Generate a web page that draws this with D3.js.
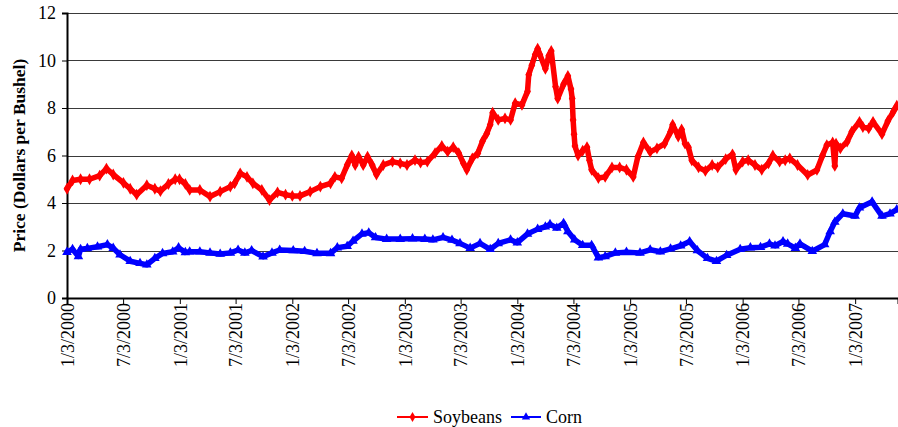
<!DOCTYPE html>
<html>
<head>
<meta charset="utf-8">
<script src="https://cdn.jsdelivr.net/npm/d3@7"></script>
<style>
  body { margin: 0; background: #fff; }
</style>
</head>
<body>
<div id="chart"></div>
<script>
// [year offset from 1/3/2000 in decimal years, price]
const soybeans = [
  [2000.00, 4.6], [2000.05, 4.95], [2000.12, 5.0], [2000.20, 5.0], [2000.29, 5.15], [2000.35, 5.45],
  [2000.41, 5.2], [2000.50, 4.85], [2000.56, 4.6], [2000.62, 4.35], [2000.71, 4.75], [2000.78, 4.6],
  [2000.83, 4.5], [2000.90, 4.8], [2000.96, 5.0], [2001.00, 5.0], [2001.05, 4.8], [2001.09, 4.55],
  [2001.18, 4.55], [2001.27, 4.27], [2001.36, 4.48], [2001.45, 4.69], [2001.49, 4.83], [2001.54, 5.25],
  [2001.60, 5.1], [2001.65, 4.83], [2001.73, 4.55], [2001.80, 4.12], [2001.87, 4.45], [2001.94, 4.35],
  [2002.00, 4.3], [2002.07, 4.3], [2002.16, 4.48], [2002.25, 4.69], [2002.34, 4.83], [2002.38, 5.1],
  [2002.44, 5.04], [2002.49, 5.6], [2002.53, 6.0], [2002.56, 5.6], [2002.59, 5.95], [2002.63, 5.6],
  [2002.67, 5.95], [2002.71, 5.6], [2002.75, 5.2], [2002.81, 5.6], [2002.89, 5.74], [2002.96, 5.67],
  [2003.02, 5.6], [2003.09, 5.81], [2003.14, 5.7], [2003.20, 5.74], [2003.27, 6.1], [2003.33, 6.4],
  [2003.38, 6.16], [2003.43, 6.35], [2003.48, 6.1], [2003.52, 5.67], [2003.55, 5.4], [2003.60, 5.88],
  [2003.65, 6.1], [2003.69, 6.6], [2003.73, 6.93], [2003.76, 7.3], [2003.78, 7.8], [2003.83, 7.5],
  [2003.89, 7.56], [2003.94, 7.5], [2003.98, 8.2], [2004.04, 8.13], [2004.09, 8.7], [2004.10, 9.4],
  [2004.13, 9.8], [2004.16, 10.25], [2004.18, 10.5], [2004.20, 10.25], [2004.25, 9.65], [2004.28, 10.2],
  [2004.30, 10.4], [2004.34, 8.9], [2004.36, 8.4], [2004.41, 9.0], [2004.45, 9.35], [2004.477, 8.8],
  [2004.486, 8.4], [2004.495, 7.5], [2004.504, 6.9], [2004.513, 6.4], [2004.54, 6.0], [2004.58, 6.2],
  [2004.62, 6.35], [2004.64, 5.8], [2004.66, 5.4], [2004.72, 5.05], [2004.78, 5.1], [2004.84, 5.5],
  [2004.91, 5.5], [2004.97, 5.4], [2005.03, 5.1], [2005.07, 5.95], [2005.12, 6.55], [2005.18, 6.15],
  [2005.24, 6.3], [2005.31, 6.5], [2005.36, 7.0], [2005.38, 7.3], [2005.43, 6.8], [2005.46, 7.1],
  [2005.49, 6.5], [2005.52, 6.35], [2005.55, 5.8], [2005.61, 5.5], [2005.67, 5.35], [2005.73, 5.6],
  [2005.78, 5.5], [2005.85, 5.85], [2005.91, 6.05], [2005.94, 5.4], [2006.00, 5.74], [2006.05, 5.8],
  [2006.11, 5.6], [2006.17, 5.4], [2006.23, 5.67], [2006.27, 6.0], [2006.33, 5.74], [2006.38, 5.8],
  [2006.42, 5.88], [2006.49, 5.6], [2006.58, 5.18], [2006.66, 5.39], [2006.71, 6.0], [2006.75, 6.44],
  [2006.80, 6.55], [2006.82, 5.56], [2006.83, 6.5], [2006.87, 6.3], [2006.93, 6.58], [2006.97, 7.0],
  [2007.04, 7.42], [2007.07, 7.2], [2007.12, 7.14], [2007.16, 7.42], [2007.24, 6.9], [2007.29, 7.45],
  [2007.34, 7.85], [2007.37, 8.1]
];

const corn = [
  [2000.00, 1.93], [2000.05, 2.05], [2000.10, 1.75], [2000.12, 2.05], [2000.18, 2.09], [2000.27, 2.16],
  [2000.36, 2.25], [2000.41, 2.1], [2000.47, 1.82], [2000.56, 1.55], [2000.65, 1.46], [2000.71, 1.4],
  [2000.78, 1.67], [2000.85, 1.88], [2000.94, 1.95], [2000.99, 2.12], [2001.05, 1.92], [2001.09, 1.95],
  [2001.18, 1.95], [2001.27, 1.9], [2001.36, 1.85], [2001.45, 1.9], [2001.52, 2.02], [2001.58, 1.9],
  [2001.64, 2.0], [2001.74, 1.74], [2001.82, 1.9], [2001.89, 2.02], [2002.01, 2.0], [2002.11, 1.97],
  [2002.22, 1.88], [2002.34, 1.88], [2002.40, 2.12], [2002.49, 2.18], [2002.54, 2.4], [2002.62, 2.7],
  [2002.68, 2.75], [2002.74, 2.55], [2002.84, 2.48], [2002.96, 2.48], [2003.07, 2.5], [2003.18, 2.48],
  [2003.25, 2.45], [2003.34, 2.55], [2003.42, 2.44], [2003.49, 2.3], [2003.58, 2.1], [2003.67, 2.3],
  [2003.76, 2.05], [2003.83, 2.3], [2003.94, 2.45], [2004.00, 2.33], [2004.09, 2.7], [2004.18, 2.9],
  [2004.25, 3.0], [2004.29, 3.1], [2004.35, 2.95], [2004.41, 3.15], [2004.45, 2.8], [2004.51, 2.45],
  [2004.58, 2.22], [2004.66, 2.22], [2004.72, 1.7], [2004.78, 1.75], [2004.87, 1.9], [2004.97, 1.93],
  [2005.09, 1.9], [2005.18, 2.03], [2005.27, 1.95], [2005.36, 2.07], [2005.45, 2.2], [2005.53, 2.38],
  [2005.60, 2.0], [2005.69, 1.67], [2005.77, 1.55], [2005.86, 1.8], [2005.98, 2.05], [2006.07, 2.12],
  [2006.16, 2.14], [2006.24, 2.28], [2006.29, 2.2], [2006.36, 2.38], [2006.40, 2.28], [2006.47, 2.1],
  [2006.51, 2.28], [2006.62, 1.97], [2006.73, 2.25], [2006.78, 2.8], [2006.82, 3.2], [2006.89, 3.55],
  [2007.00, 3.45], [2007.04, 3.8], [2007.15, 4.05], [2007.24, 3.45], [2007.31, 3.55], [2007.37, 3.72]
];

const yTicks = [0, 2, 4, 6, 8, 10, 12];
const seriesNames = ["Soybeans", "Corn"];

const width = 898;
const height = 427;
const marginTop = 13;
const marginRight = 0;
const marginBottom = 129;
const marginLeft = 67;
const serif = "'Liberation Serif', 'Times New Roman', 'DejaVu Serif', serif";

const startDate = new Date(2000, 0, 3);
const endDate = new Date(2007, 4, 22);
const toDate = t => d3.timeDay.offset(startDate, Math.round((t - 2000) * 365.25));

const svg = d3.create("svg")
    .attr("width", width)
    .attr("height", height)
    .attr("viewBox", [0, 0, width, height])
    .style("display", "block")
    .style("font-family", serif);

const x = d3.scaleTime([startDate, endDate], [marginLeft, width - marginRight]);
const y = d3.scaleLinear([0, 12], [height - marginBottom, marginTop]);

// gridlines
svg.append("g")
    .selectAll("line")
    .data(yTicks.filter(d => d > 0))
    .join("line")
    .attr("x1", marginLeft)
    .attr("x2", width - marginRight)
    .attr("y1", d => Math.round(y(d)) + 0.5)
    .attr("y2", d => Math.round(y(d)) + 0.5)
    .attr("stroke", "#3a3a3a")
    .attr("stroke-width", 1);

// x axis: ticks on 1/3 and 7/3
const xTicks = [];
for (let yr = 2000; yr <= 2007; yr++) {
    xTicks.push(new Date(yr, 0, 3));
    if (yr < 2007) xTicks.push(new Date(yr, 6, 3));
}

svg.append("g")
    .attr("transform", `translate(0,${y(0)})`)
    .call(d3.axisBottom(x).tickValues(xTicks).tickSizeOuter(0).tickSize(6).tickFormat(d3.timeFormat("%-m/%-d/%Y")))
    .attr("font-family", null)
    .call(g => g.select(".domain").attr("stroke", "#000").attr("stroke-width", 2))
    .call(g => g.selectAll(".tick line").attr("stroke", "#000"))
    .call(g => g.selectAll(".tick text")
        .style("font-family", serif)
        .attr("font-size", "18px")
        .attr("fill", "#000")
        .attr("transform", "rotate(-90)")
        .attr("text-anchor", "end")
        .attr("x", -5)
        .attr("y", 0)
        .attr("dy", "0.35em"));

// y axis
svg.append("g")
    .attr("transform", `translate(${marginLeft},0)`)
    .call(d3.axisLeft(y).tickValues(yTicks).tickSizeOuter(0).tickSize(5).tickPadding(6))
    .attr("font-family", null)
    .call(g => g.select(".domain").attr("stroke", "#000").attr("stroke-width", 2))
    .call(g => g.selectAll(".tick line").attr("stroke", "#000"))
    .call(g => g.selectAll(".tick text")
        .style("font-family", serif)
        .attr("font-size", "18px")
        .attr("fill", "#000"));

svg.append("text")
    .attr("transform", `translate(25,${(marginTop + y(0)) / 2}) rotate(-90)`)
    .attr("text-anchor", "middle")
    .style("font-family", serif)
    .attr("font-weight", "bold")
    .attr("font-size", "17.5px")
    .text("Price (Dollars per Bushel)");

const line = d3.line()
    .x(d => x(toDate(d[0])))
    .y(d => y(d[1]));

const series = [
    { name: seriesNames[0], data: soybeans, color: "#ff0000", symbol: d3.symbolDiamond },
    { name: seriesNames[1], data: corn, color: "#0000ff", symbol: d3.symbolTriangle }
];

series.forEach(s => {
    svg.append("path")
        .datum(s.data)
        .attr("fill", "none")
        .attr("stroke", s.color)
        .attr("stroke-width", 5.5)
        .attr("stroke-linejoin", "round")
        .attr("stroke-linecap", "round")
        .attr("d", line);

    svg.append("g")
        .selectAll("path")
        .data(s.data)
        .join("path")
        .attr("transform", d => `translate(${x(toDate(d[0]))},${y(d[1])})`)
        .attr("d", d3.symbol(s.symbol, 40))
        .attr("fill", s.color);
});

// legend
const legend = svg.append("g").attr("transform", "translate(0,417)");
const legendItems = [
    { x0: 397, x1: 428, tx: 433, s: series[0] },
    { x0: 511, x1: 541, tx: 546, s: series[1] }
];
legendItems.forEach(item => {
    legend.append("line")
        .attr("x1", item.x0).attr("x2", item.x1)
        .attr("stroke", item.s.color).attr("stroke-width", 2);
    legend.append("path")
        .attr("transform", `translate(${(item.x0 + item.x1) / 2},0)`)
        .attr("d", d3.symbol(item.s.symbol, 30))
        .attr("fill", item.s.color);
    legend.append("text")
        .attr("x", item.tx)
        .attr("dy", "0.35em")
        .style("font-family", serif)
        .attr("font-size", "18px")
        .text(item.s.name);
});

document.getElementById("chart").appendChild(svg.node());
</script>
</body>
</html>
